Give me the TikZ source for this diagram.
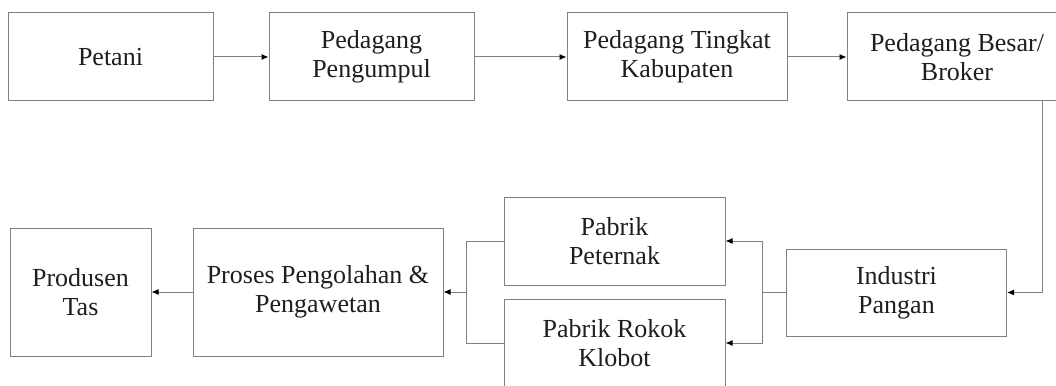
\documentclass[tikz,border=0pt]{standalone}
\usepackage{fontspec}
\setmainfont{Liberation Serif}
\usetikzlibrary{arrows.meta}

\definecolor{garisabu}{RGB}{128,128,128}
\definecolor{teksgelap}{RGB}{30,30,30}

\begin{document}
\begin{tikzpicture}[
  x=1pt, y=-1pt,
  font=\fontsize{26pt}{29pt}\selectfont,
  kotak/.style={draw=garisabu, line width=1pt, rectangle, align=center,
    text=teksgelap, inner sep=0pt, minimum height=88pt},
  garis/.style={draw=garisabu, line width=1pt},
  panah/.style={garis, -{Latex[length=7pt, width=6pt, fill=black, color=black]}}
]

\useasboundingbox (0,0) rectangle (1056,385);
\clip (0,0) rectangle (1056,385);

%--------------------------------------------------------------
% Baris atas: rantai pedagang
%--------------------------------------------------------------
\node[kotak, minimum width=205pt] (petani) at (110.5,57) {Petani};
\node[kotak, minimum width=205pt] (pengumpul) at (371.5,57) {Pedagang\\Pengumpul};
\node[kotak, minimum width=220pt] (tingkat) at (677,57) {Pedagang Tingkat\\Kabupaten};
\node[kotak, minimum width=220pt] (besar) at (957,57) {Pedagang Besar/\\Broker};

\draw[panah] (petani) -- (pengumpul);
\draw[panah] (pengumpul) -- (tingkat);
\draw[panah] (tingkat) -- (besar);

%--------------------------------------------------------------
% Industri pangan dan pabrik
%--------------------------------------------------------------
\node[kotak, minimum width=220pt, minimum height=87pt] (industri) at (896.5,292.5) {Industri\\Pangan};
\node[kotak, minimum width=221pt] (peternak) at (614.5,241) {Pabrik\\Peternak};
\node[kotak, minimum width=221pt] (rokok) at (614.5,343) {Pabrik Rokok\\Klobot};

\draw[panah] ([xshift=85pt]besar.south) |- (industri.east);
\draw[garis] (industri.west) -- ++(-24,0) coordinate (cabang);
\draw[panah] (cabang) |- (peternak.east);
\draw[panah] (cabang) |- (rokok.east);

%--------------------------------------------------------------
% Pengolahan dan produsen
%--------------------------------------------------------------
\node[kotak, minimum width=250pt, minimum height=128pt] (proses) at (318,292) {Proses Pengolahan \&\\Pengawetan};
\node[kotak, minimum width=141pt, minimum height=128pt] (produsen) at (80.5,292) {Produsen\\Tas};

\coordinate (gabung) at (466,292);
\draw[garis] (peternak.west) -| (gabung);
\draw[garis] (rokok.west) -| (gabung);
\draw[panah] (gabung) -- (proses.east);
\draw[panah] (proses) -- (produsen);

\end{tikzpicture}
\end{document}
